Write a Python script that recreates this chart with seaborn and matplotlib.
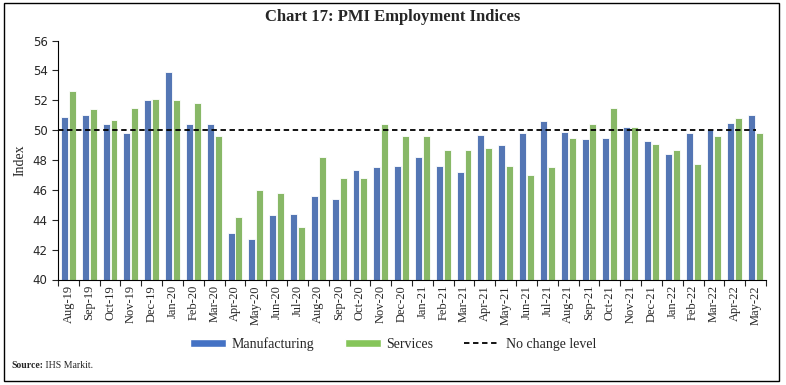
import numpy as np
import pandas as pd
import matplotlib
matplotlib.use("Agg")
import matplotlib.pyplot as plt
from matplotlib.patches import Patch, Rectangle
from matplotlib.lines import Line2D
import seaborn as sns

months = ["Aug-19", "Sep-19", "Oct-19", "Nov-19", "Dec-19", "Jan-20", "Feb-20", "Mar-20",
          "Apr-20", "May-20", "Jun-20", "Jul-20", "Aug-20", "Sep-20", "Oct-20", "Nov-20",
          "Dec-20", "Jan-21", "Feb-21", "Mar-21", "Apr-21", "May-21", "Jun-21", "Jul-21",
          "Aug-21", "Sep-21", "Oct-21", "Nov-21", "Dec-21", "Jan-22", "Feb-22", "Mar-22",
          "Apr-22", "May-22"]
manufacturing = [50.9, 51.0, 50.4, 49.8, 52.0, 53.9, 50.4, 50.4, 43.1, 42.7, 44.3, 44.4,
                 45.6, 45.4, 47.3, 47.5, 47.6, 48.2, 47.6, 47.2, 49.7, 49.0, 49.8, 50.6,
                 49.9, 49.4, 49.5, 50.2, 49.3, 48.4, 49.8, 50.1, 50.5, 51.0]
services = [52.6, 51.4, 50.7, 51.5, 52.1, 52.0, 51.8, 49.6, 44.2, 46.0, 45.8, 43.5,
            48.2, 46.8, 46.8, 50.4, 49.6, 49.6, 48.7, 48.7, 48.8, 47.6, 47.0, 47.5,
            49.5, 50.4, 51.5, 50.2, 49.1, 48.7, 47.7, 49.6, 50.8, 49.8]
no_change = 50

blue = "#4472C4"
green = "#86C55A"

df = pd.DataFrame({
    "month": months * 2,
    "value": manufacturing + services,
    "series": ["Manufacturing"] * len(months) + ["Services"] * len(months),
})

sns.set_style("white")
plt.rcParams["font.family"] = ["Liberation Serif", "DejaVu Serif"]

fig = plt.figure(figsize=(7.86, 3.85), dpi=100)
ax = fig.add_axes([58 / 786, 1 - 279.5 / 385, (766 - 58) / 786, (279.5 - 40.5) / 385])

sns.barplot(data=df, x="month", y="value", hue="series", order=months,
            palette={"Manufacturing": blue, "Services": green},
            width=0.76, gap=0.12, edgecolor="white", linewidth=0.6,
            legend=False, ax=ax)

# no change level line
ax.plot([-0.5, len(months) - 1], [no_change, no_change], color="black",
        linestyle=(0, (3, 2)), linewidth=1.3, zorder=5)

ax.set_ylim(40, 56)
ax.set_yticks(np.arange(40, 57, 2))
ax.set_xlim(-0.5, len(months) - 0.5)
ax.set_xlabel("")
ax.set_ylabel("Index", fontsize=10)
ax.tick_params(axis="y", length=4, width=0.8, direction="out", left=True)
for lbl in ax.get_yticklabels():
    lbl.set_family("DejaVu Sans")
    lbl.set_fontsize(8.5)
ax.set_xticks(range(len(months)))
ax.set_xticklabels(months, rotation=90, fontsize=9)
ax.tick_params(axis="x", which="major", length=0, pad=4)
ax.set_xticks(np.arange(-0.5, len(months), 1), minor=True)
ax.tick_params(axis="x", which="minor", length=4, width=0.8, direction="out", bottom=True)
sns.despine(ax=ax)
for s in ["left", "bottom"]:
    ax.spines[s].set_color("black")
    ax.spines[s].set_linewidth(0.8)

fig.text(0.5, 1 - 17 / 385, "Chart 17: PMI Employment Indices", ha="center", va="center",
         fontsize=12, fontweight="bold")

handles = [Patch(facecolor=blue, label="Manufacturing"),
           Patch(facecolor=green, label="Services"),
           Line2D([0], [0], color="black", linestyle=(0, (3, 2)), linewidth=1.3,
                  label="No change level")]
fig.legend(handles=handles, loc="center", bbox_to_anchor=(0.5, 1 - 344 / 385), ncol=3,
           frameon=False, fontsize=10, handlelength=2.6, handleheight=0.5,
           columnspacing=2.2, handletextpad=0.4)

src = fig.text(11 / 786, 1 - 365 / 385, "Source:", fontsize=7, fontweight="bold", va="center")
fig.canvas.draw()
ax.annotate(" IHS Markit.", xy=(1, 0.5), xycoords=src, va="center", ha="left",
            fontsize=7, annotation_clip=False)

fig.patches.append(Rectangle((4 / 786, 4 / 385), 775 / 786, 378 / 385, transform=fig.transFigure,
                             fill=False, edgecolor="black", linewidth=1.0))

fig.savefig("out.png", dpi=100)
